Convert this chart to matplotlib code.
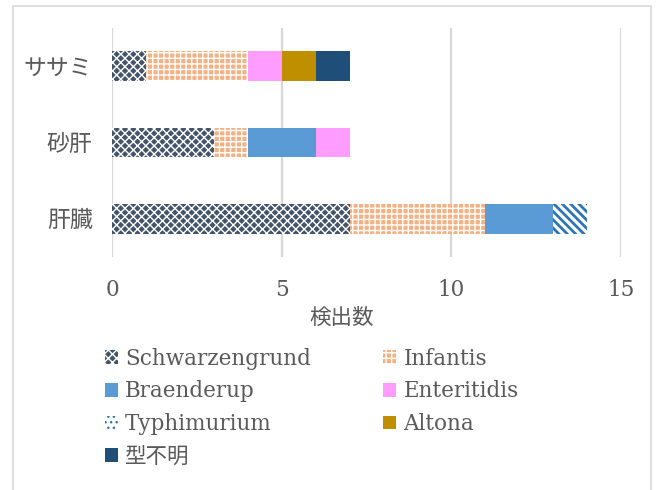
import matplotlib
matplotlib.use("Agg")
import matplotlib.pyplot as plt
from matplotlib.patches import Patch, Rectangle
import numpy as np

plt.rcParams['font.family'] = ['DejaVu Serif', 'Noto Sans CJK JP']
plt.rcParams['hatch.linewidth'] = 1.0

# data (bottom to top)
categories = ['肝臓', '砂肝', 'ササミ']
serotypes = ['Schwarzengrund', 'Infantis', 'Braenderup', 'Enteritidis',
             'Typhimurium', 'Altona', '型不明']
schwarzengrund = [7, 3, 1]
infantis = [4, 1, 3]
braenderup = [2, 2, 0]
enteritidis = [0, 1, 1]
typhimurium = [1, 0, 0]
altona = [0, 0, 1]
unknown = [0, 0, 1]
x_ticks = [0, 5, 10, 15]

series = [schwarzengrund, infantis, braenderup, enteritidis, typhimurium, altona, unknown]
# (face, hatch colour, hatch, hatch width)
styles = [
    ('#44546A', 'white', 'xxxx', 1.0),
    ('#F4B183', 'white', '+++', 1.0),
    ('#5B9BD5', '#5B9BD5', None, 1.0),
    ('#FF9CFF', '#FF9CFF', None, 1.0),
    ('white', '#2E75B6', '\\\\\\\\', 2.0),
    ('#BF8F00', '#BF8F00', None, 1.0),
    ('#1F4E79', '#1F4E79', None, 1.0),
]

fs = 15.5
gray = '#595959'

fig = plt.figure(figsize=(6.58, 4.90), dpi=100)
ax = fig.add_axes([112/658, 1-257/490, (621-112)/658, 229/490])

y = np.arange(len(categories))
left = np.zeros(len(categories))
handles = []
for name, vals, (fc, hc, hatch, hw) in zip(serotypes, series, styles):
    vals = np.array(vals, dtype=float)
    bars = ax.barh(y, vals, left=left, height=0.39, color=fc, edgecolor=hc,
                   hatch=hatch, linewidth=0, zorder=3)
    for b in bars:
        if hasattr(b, 'set_hatch_linewidth'):
            b.set_hatch_linewidth(hw)
    left += vals
    if name == 'Typhimurium':
        handles.append(Patch(facecolor='white', edgecolor='#2E75B6', hatch='...', linewidth=0))
    else:
        handles.append(Patch(facecolor=fc, edgecolor=hc, hatch=hatch, linewidth=0))

ax.set_xlim(0, 15)
ax.set_ylim(-0.5, 2.5)
ax.set_xticks(x_ticks)
ax.set_yticks(y)
ax.set_yticklabels(categories)
ax.grid(axis='x', color='#D9D9D9', linewidth=1.6, zorder=0)
for s in ax.spines.values():
    s.set_visible(False)
ax.tick_params(axis='both', length=0, labelcolor=gray, labelsize=fs)
ax.tick_params(axis='x', pad=16)
ax.tick_params(axis='y', pad=14, labelsize=16.5)
ax.set_xlabel('検出数', fontsize=fs, color=gray)
ax.xaxis.set_label_coords(0.452, -0.266)
ax.xaxis.label.set_verticalalignment('center')

# legend: row order in reference, matplotlib fills by column
order = [0, 2, 4, 6, 1, 3, 5]
fig.legend([handles[i] for i in order], [serotypes[i] for i in order],
           ncol=2, loc='upper left', bbox_to_anchor=(96/658, 1-339/490),
           frameon=False, fontsize=fs, labelcolor=gray,
           handlelength=0.6, handleheight=0.6, handletextpad=0.35,
           columnspacing=3.35, labelspacing=0.5, borderaxespad=0)

fig.patches.append(Rectangle((13/658, -0.02), (651-13)/658, 1-6/490+0.02,
                             transform=fig.transFigure, fill=False,
                             edgecolor='#D9D9D9', linewidth=1.2))

fig.savefig('out.png', dpi=100, facecolor='white')
